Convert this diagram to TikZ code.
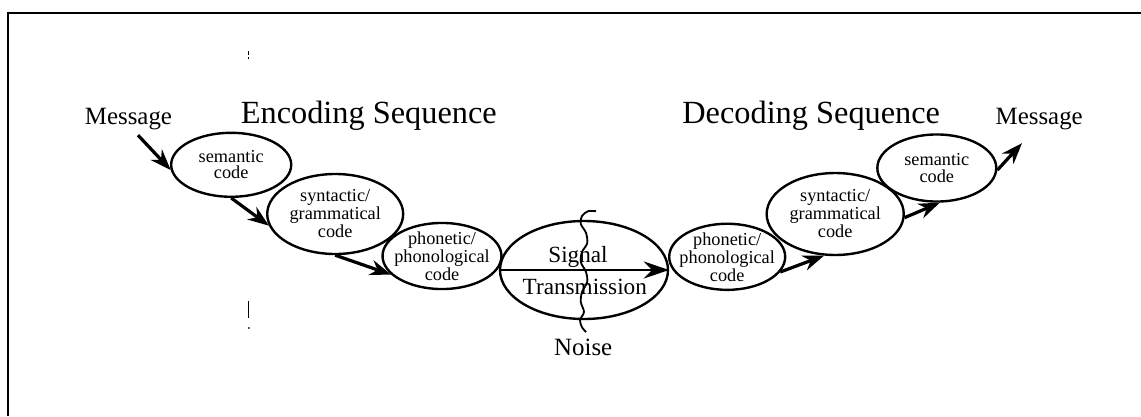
\documentclass[tikz,border=0pt]{standalone}
\usepackage{fontspec}
\setmainfont{Liberation Serif}
\usetikzlibrary{shapes.geometric,arrows.meta}

\begin{document}
\begin{tikzpicture}[scale=0.2]
			\tikzstyle{every node}+=[inner sep=0pt]
			\tikzstyle{code}=[draw, ellipse, line width=1.7pt, inner sep=-8pt, align=center, font=\fontsize{13}{11.7}\selectfont]
			\tikzstyle{link}=[line width=2.3pt, -{Stealth[length=15pt,width=11pt]}]
			\tikzstyle{big}=[font=\fontsize{17.7}{20}\selectfont]
			\tikzstyle{title}=[anchor=base, font=\fontsize{23}{26}\selectfont]
			\useasboundingbox (0,0) rectangle (142.625,-52);
			\draw [black, line width=1.4pt] (1,-52) -- (1,-1.6) -- (142.625,-1.6);
			\draw [black, line width=0.8pt] (31.1,-6.4) -- (31.1,-6.9);
			\draw [black, line width=0.8pt] (31.1,-7.1) -- (31.1,-7.4);
			\draw [black, line width=0.6pt] (31.1,-37.6) -- (31.1,-39.8);
			\fill [black] (31.1,-41) circle (0.12);
			% headings
			\draw (46.1,-15.4) node[title] (enc) {Encoding Sequence};
			\draw (101.4,-15.4) node[title] (dec) {Decoding Sequence};
			\draw (16.06,-15.5) node[big, anchor=base] (msgL) {Message};
			\draw (129.9,-15.6) node[big, anchor=base] (msgR) {Message};
			% encoding side
			\draw (28.9,-20.6) node[code, minimum width=85.4pt, minimum height=45.5pt] (semL) {semantic\\code};
			\draw (41.9,-26.75) node[code, minimum width=96.7pt, minimum height=56.9pt] (synL) {syntactic/\\grammatical\\code};
			\draw (55.25,-32) node[code, minimum width=84.6pt, minimum height=47pt] (phoL) {phonetic/\\phonological\\code};
			% channel
			\draw (73,-33.75) node[draw, ellipse, line width=1.7pt, minimum width=119.5pt, minimum height=69.7pt] (sig) {};
			\draw (72.25,-32.1) node[font=\fontsize{16.5}{19}\selectfont] (sigA) {Signal};
			\draw (73.1,-35.9) node[font=\fontsize{16.5}{19}\selectfont] (sigB) {Transmission};
			\draw (72.9,-43.4) node[big] (noise) {Noise};
			% decoding side
			\draw (90.9,-32.1) node[code, minimum width=82.5pt, minimum height=47pt] (phoR) {phonetic/\\phonological\\code};
			\draw (104.4,-26.75) node[code, minimum width=97.5pt, minimum height=58.3pt] (synR) {syntactic/\\grammatical\\code};
			\draw (117.1,-21) node[code, minimum width=84.6pt, minimum height=47.7pt] (semR) {semantic\\code};
			\coordinate (inL) at (17.25,-16.9);
			\coordinate (outR) at (127.75,-17.9);
			\draw [link] (inL) -- (semL.185);
			\draw [link] (semL.south) -- (synL.190);
			\draw [link] (synL.south) -- (phoL.200);
			\draw [line width=2pt, -{Stealth[length=18pt,width=12pt]}] (sig.west) -- (sig.east);
			\draw [link] (phoR.-16) -- (synR.-105);
			\draw [link] (synR.-3) -- (semR.-85);
			\draw [link] (semR.-2) -- (outR);
			% noise
			\draw [black, line width=1.3pt] plot[smooth] coordinates {(74.5,-26.4) (73.5,-26.4) (72.75,-27) (72.6,-28) (73.25,-29.1) (73.4,-30.4) (72.75,-31.5) (72.6,-32.75) (73.25,-34) (73.4,-35.25) (72.75,-36.5) (72.6,-37.75) (73,-39) (72.5,-40) (72.75,-40.9) (73.25,-41.5)};
\end{tikzpicture}
\end{document}
